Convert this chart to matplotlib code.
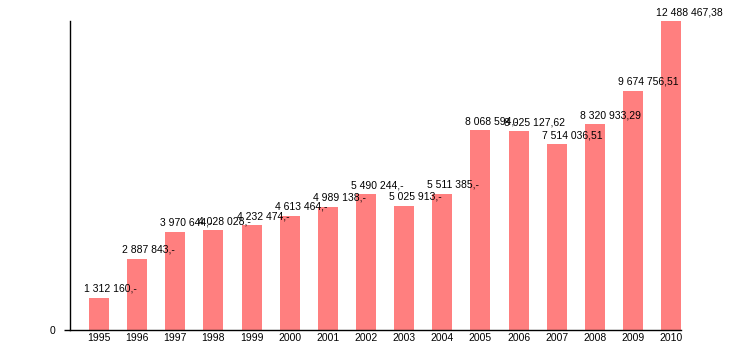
import matplotlib
matplotlib.use("Agg")
import matplotlib.pyplot as plt

years = ["1995", "1996", "1997", "1998", "1999", "2000", "2001", "2002",
         "2003", "2004", "2005", "2006", "2007", "2008", "2009", "2010"]
values = [1312160, 2887843, 3970644, 4028028, 4232474, 4613464, 4989138, 5490244,
          5025913, 5511385, 8068594, 8025127.62, 7514036.51, 8320933.29, 9674756.51, 12488467.38]
labels = ["1 312 160,-", "2 887 843,-", "3 970 644,-", "4 028 028,-", "4 232 474,-",
          "4 613 464,-", "4 989 138,-", "5 490 244,-", "5 025 913,-", "5 511 385,-",
          "8 068 594,-", "8 025 127,62", "7 514 036,51", "8 320 933,29", "9 674 756,51",
          "12 488 467,38"]

plt.rcParams['font.family'] = ['Liberation Sans', 'DejaVu Sans']

fig = plt.figure(figsize=(7.3, 3.5), dpi=100)
ax = fig.add_axes([70/730, 20/350, (681-70)/730, (330-21)/350])

x = list(range(len(years)))
ax.bar(x, values, width=0.525, color="#ff7f7f", zorder=2)

for xi, v, lab in zip(x, values, labels):
    ax.annotate(lab, (xi, v), xytext=(-10.8, 4.3), textcoords="offset points",
                ha="left", va="baseline", fontsize=7.5, color="black", zorder=3)

ax.set_xlim(-0.76, 15.26)
ax.set_ylim(0, max(values))
ax.set_xticks(x)
ax.set_xticklabels(years, fontsize=7.5)
ax.set_yticks([0])
ax.set_yticklabels(["0"], fontsize=7.5)
ax.tick_params(axis="x", length=0, pad=2)
ax.tick_params(axis="y", length=4.3, width=1, pad=6)

for s in ["top", "right"]:
    ax.spines[s].set_visible(False)
ax.spines["left"].set_linewidth(1)
ax.spines["bottom"].set_linewidth(1)

fig.savefig("out.png", dpi=100)
